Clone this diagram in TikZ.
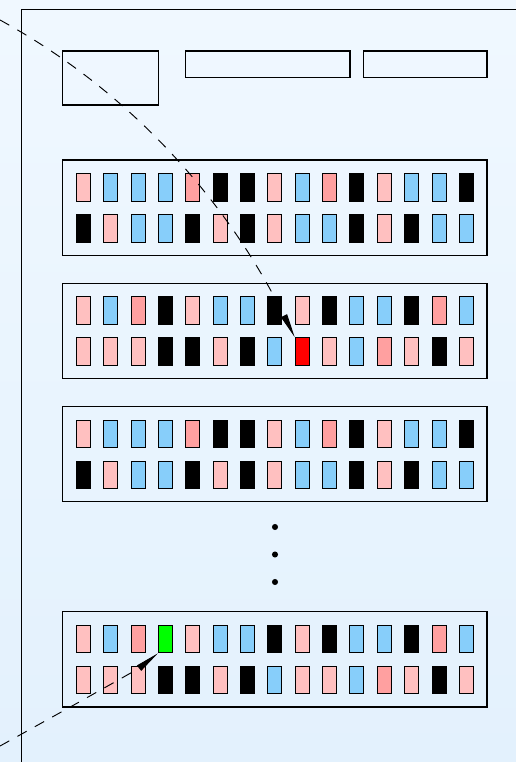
\documentclass[tikz,border=0pt]{standalone}
\usetikzlibrary{arrows.meta}

\definecolor{pk}{RGB}{255,192,192}
\definecolor{sa}{RGB}{255,160,160}
\definecolor{bu}{RGB}{135,206,250}
\definecolor{bk}{RGB}{0,0,0}
\definecolor{rd}{RGB}{255,0,0}
\definecolor{gn}{RGB}{0,255,0}
\definecolor{bgtop}{RGB}{240,248,255}
\definecolor{bgbottom}{RGB}{227,241,253}

\tikzset{
  panel/.style={line width=1pt},
  block/.style={draw, line width=1pt},
  cell/.style={draw, line width=0.8pt, minimum width=0.42cm, minimum height=0.83cm, inner sep=0pt},
  pointer/.style={dashed, dash pattern=on 9pt off 8pt, line width=0.8pt, -{Triangle[length=0.72cm, width=0.2cm]}}
}

% one row of cells: block, row, y, colours
\newcommand{\cellrow}[4]{%
  \foreach \c [count=\i] in {#4} {
    \node[cell, fill=\c] (b#1-#2-\i) at ({83.3+27.36*(\i-1)}, #3) {};
  }
}

\begin{document}
\begin{tikzpicture}[x=0.03cm, y=-0.03cm]
  \useasboundingbox (0,0) rectangle (516,762);
  \shade[top color=bgtop, bottom color=bgbottom] (0,0) rectangle (516,762);

  % Draw panel
  \draw[panel] (21.5,762) -- (21.5,9.5) -- (516,9.5);

  % Header boxes
  \draw[block] (62.5,51) rectangle (158.5,105);
  \draw[block] (185.5,51) rectangle (350,77.5);
  \draw[block] (363.5,51) rectangle (487,77.5);

  % Blocks
  \draw[block] (62.5,160) rectangle (487,255.5);
  \cellrow{1}{1}{187.5}{pk,bu,bu,bu,sa,bk,bk,pk,bu,sa,bk,pk,bu,bu,bk}
  \cellrow{1}{2}{228.5}{bk,pk,bu,bu,bk,pk,bk,pk,bu,bu,bk,pk,bk,bu,bu}

  \draw[block] (62.5,283.5) rectangle (487,378.5);
  \cellrow{2}{1}{310.5}{pk,bu,sa,bk,pk,bu,bu,bk,pk,bk,bu,bu,bk,sa,bu}
  \cellrow{2}{2}{351.5}{pk,pk,pk,bk,bk,pk,bk,bu,rd,pk,bu,sa,pk,bk,pk}

  \draw[block] (62.5,406.5) rectangle (487,501.5);
  \cellrow{3}{1}{434}{pk,bu,bu,bu,sa,bk,bk,pk,bu,sa,bk,pk,bu,bu,bk}
  \cellrow{3}{2}{475}{bk,pk,bu,bu,bk,pk,bk,pk,bu,bu,bk,pk,bk,bu,bu}

  % Dots
  \fill (275,527) circle (2.6pt);
  \fill (275,554.5) circle (2.6pt);
  \fill (275,582) circle (2.6pt);

  \draw[block] (62.5,611.5) rectangle (487,707);
  \cellrow{4}{1}{639}{pk,bu,sa,gn,pk,bu,bu,bk,pk,bk,bu,bu,bk,sa,bu}
  \cellrow{4}{2}{680}{pk,pk,pk,bk,bk,pk,bk,bu,pk,pk,bu,sa,pk,bk,pk}

  % Pointers
  \coordinate (src1) at (0,20);
  \coordinate (src2) at (0,746);
  \draw[pointer] (src1) .. controls (126,89) and (224,195) .. (b2-2-9.north west);
  \draw[pointer] (src2) .. controls (85,699) and (138,669) .. (b4-1-4.south west);
\end{tikzpicture}
\end{document}
